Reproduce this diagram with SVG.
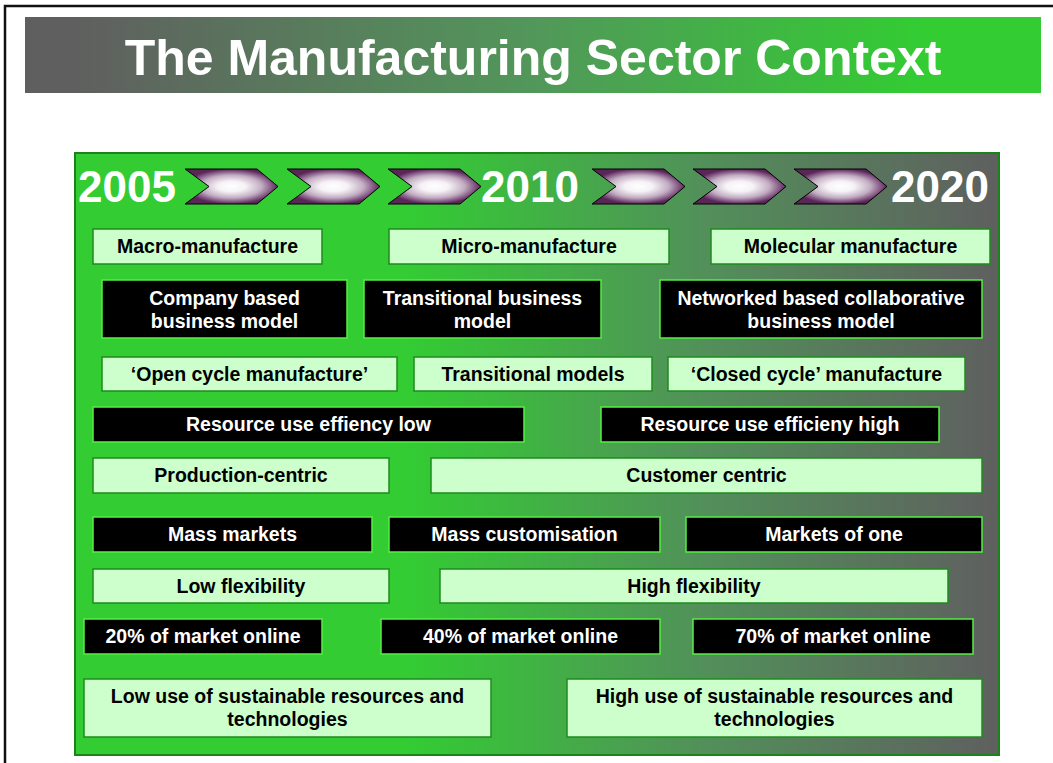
<svg xmlns="http://www.w3.org/2000/svg" width="1053" height="763" viewBox="0 0 1053 763">
<defs>
<linearGradient id="gTitle" x1="0" y1="0" x2="1" y2="0">
<stop offset="0" stop-color="#5f5f5f"/>
<stop offset="0.05" stop-color="#5f5f5f"/>
<stop offset="0.5" stop-color="#52975a"/>
<stop offset="0.88" stop-color="#33cc33"/>
<stop offset="1" stop-color="#33cc33"/>
</linearGradient>
<linearGradient id="gPanel" x1="0" y1="0" x2="1" y2="0">
<stop offset="0" stop-color="#33cc33"/>
<stop offset="0.36" stop-color="#33cc33"/>
<stop offset="0.68" stop-color="#52905a"/>
<stop offset="1" stop-color="#5f5f5f"/>
</linearGradient>
<radialGradient id="gChev" cx="0.5" cy="0.5" r="0.5">
<stop offset="0" stop-color="#ffffff"/>
<stop offset="0.3" stop-color="#f6f2f6"/>
<stop offset="0.65" stop-color="#c2adc2"/>
<stop offset="0.9" stop-color="#7a4a7a"/>
<stop offset="1" stop-color="#5a2658"/>
</radialGradient>
<polygon id="chev" points="0,0 72,0 93,17.5 72,35 0,35 24,17.5" fill="url(#gChev)" stroke="#000" stroke-width="1"/>
</defs>
<style>
text{font-family:"Liberation Sans",Arial,sans-serif;font-weight:bold;text-anchor:middle}
.lt rect{fill:#ccffcc;stroke:#1f8a1f;stroke-width:1.5}
.lt text{fill:#000;font-size:19.5px}
.dk rect{fill:#000;stroke:#55ee44;stroke-width:1.5}
.dk text{fill:#fff;font-size:19.5px}
.yr{fill:#fff;font-size:44px;text-anchor:start}
</style>
<rect x="5" y="6" width="1100" height="800" fill="#fff" stroke="#111" stroke-width="2.5"/>
<g id="title">
<rect x="25" y="17" width="1016" height="76" fill="url(#gTitle)"/>
<text x="533" y="75" fill="#fff" font-size="50">The Manufacturing Sector Context</text>
</g>
<g id="panel">
<rect x="75" y="153" width="924" height="602" fill="url(#gPanel)" stroke="#1a841a" stroke-width="2"/>
</g>
<g id="timeline">
<text class="yr" x="78" y="202">2005</text>
<text class="yr" x="481" y="202">2010</text>
<text class="yr" x="891" y="202">2020</text>
<use href="#chev" x="185" y="169"/>
<use href="#chev" x="287" y="169"/>
<use href="#chev" x="388" y="169"/>
<use href="#chev" x="592" y="169"/>
<use href="#chev" x="693" y="169"/>
<use href="#chev" x="794" y="169"/>
</g>
<g id="connectors"></g>
<g id="n1" class="lt"><rect x="93" y="229" width="229" height="35"/><text x="207.5" y="253">Macro-manufacture</text></g>
<g id="n2" class="lt"><rect x="389" y="229" width="280" height="35"/><text x="529" y="253">Micro-manufacture</text></g>
<g id="n3" class="lt"><rect x="711" y="229" width="279" height="35"/><text x="850.5" y="253">Molecular manufacture</text></g>
<g id="n4" class="dk"><rect x="102" y="280" width="245" height="58"/><text x="224.5" y="305">Company based</text><text x="224.5" y="328">business model</text></g>
<g id="n5" class="dk"><rect x="364" y="280" width="237" height="58"/><text x="482.5" y="305">Transitional business</text><text x="482.5" y="328">model</text></g>
<g id="n6" class="dk"><rect x="660" y="280" width="322" height="58"/><text x="821" y="305">Networked based collaborative</text><text x="821" y="328">business model</text></g>
<g id="n7" class="lt"><rect x="102" y="357" width="295" height="34"/><text x="249.5" y="381">‘Open cycle manufacture’</text></g>
<g id="n8" class="lt"><rect x="414" y="357" width="238" height="34"/><text x="533" y="381">Transitional models</text></g>
<g id="n9" class="lt"><rect x="668" y="357" width="297" height="34"/><text x="816.5" y="381">‘Closed cycle’ manufacture</text></g>
<g id="n10" class="dk"><rect x="93" y="407" width="431" height="35"/><text x="308.5" y="431">Resource use effiency low</text></g>
<g id="n11" class="dk"><rect x="601" y="407" width="338" height="35"/><text x="770" y="431">Resource use efficieny high</text></g>
<g id="n12" class="lt"><rect x="93" y="458" width="296" height="35"/><text x="241" y="482">Production-centric</text></g>
<g id="n13" class="lt"><rect x="431" y="458" width="551" height="35"/><text x="706.5" y="482">Customer centric</text></g>
<g id="n14" class="dk"><rect x="93" y="517" width="279" height="35"/><text x="232.5" y="541">Mass markets</text></g>
<g id="n15" class="dk"><rect x="389" y="517" width="271" height="35"/><text x="524.5" y="541">Mass customisation</text></g>
<g id="n16" class="dk"><rect x="686" y="517" width="296" height="35"/><text x="834" y="541">Markets of one</text></g>
<g id="n17" class="lt"><rect x="93" y="569" width="296" height="34"/><text x="241" y="593">Low flexibility</text></g>
<g id="n18" class="lt"><rect x="440" y="569" width="508" height="34"/><text x="694" y="593">High flexibility</text></g>
<g id="n19" class="dk"><rect x="84" y="619" width="238" height="35"/><text x="203" y="643">20% of market online</text></g>
<g id="n20" class="dk"><rect x="381" y="619" width="279" height="35"/><text x="520.5" y="643">40% of market online</text></g>
<g id="n21" class="dk"><rect x="693" y="619" width="280" height="35"/><text x="833" y="643">70% of market online</text></g>
<g id="n22" class="lt"><rect x="84" y="679" width="407" height="58"/><text x="287.5" y="703">Low use of sustainable resources and</text><text x="287.5" y="726">technologies</text></g>
<g id="n23" class="lt"><rect x="567" y="679" width="415" height="58"/><text x="774.5" y="703">High use of sustainable resources and</text><text x="774.5" y="726">technologies</text></g>
</svg>
